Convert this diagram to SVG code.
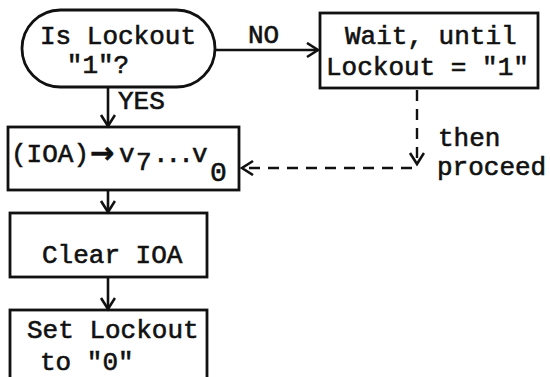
<svg xmlns="http://www.w3.org/2000/svg" width="550" height="377" viewBox="0 0 550 377">
<style>
.t{font-family:"Liberation Mono","DejaVu Sans Mono",monospace;font-size:26px;fill:#111;stroke:#111;stroke-width:0.6}
.b{fill:none;stroke:#111;stroke-width:2.8}
.c{fill:none;stroke:#111;stroke-width:2.6}
.d{fill:none;stroke:#111;stroke-width:2.4;stroke-dasharray:11 8}
</style>
<defs>
<marker id="ah" markerUnits="userSpaceOnUse" markerWidth="16" markerHeight="18" refX="13" refY="8" orient="auto">
<path d="M2,1 L13,8 L2,15" fill="none" stroke="#111" stroke-width="2.6"/>
</marker>
</defs>
<rect width="550" height="377" fill="#fff"/>
<g id="connectors">
<line class="c" x1="215" y1="50" x2="318" y2="50" marker-end="url(#ah)"/>
<line class="c" x1="108" y1="87" x2="108" y2="126" marker-end="url(#ah)"/>
<line class="d" x1="417" y1="90" x2="417" y2="164" marker-end="url(#ah)"/>
<line class="d" x1="412" y1="168" x2="242" y2="168" marker-end="url(#ah)"/>
<line class="c" x1="108" y1="190" x2="108" y2="212" marker-end="url(#ah)"/>
<line class="c" x1="108" y1="277" x2="108" y2="309" marker-end="url(#ah)"/>
<text class="t" x="248" y="43">NO</text>
<text class="t" x="118" y="109">YES</text>
<text class="t" x="438" y="146">then</text>
<text class="t" x="437" y="175">proceed</text>
</g>
<g id="decision">
<rect class="b" x="22" y="10" width="193" height="77" rx="38.5"/>
<text class="t" x="118" y="44" text-anchor="middle">Is Lockout</text>
<text class="t" x="98" y="73" text-anchor="middle">"1"?</text>
</g>
<g id="wait">
<rect class="b" x="320" y="13" width="218" height="75"/>
<text class="t" x="345" y="44">Wait, until</text>
<text class="t" x="326" y="75">Lockout = "1"</text>
</g>
<g id="transfer">
<rect class="b" x="8" y="127" width="231" height="63"/>
<text class="t" x="11" y="162">(IOA)<tspan x="90" font-family="'DejaVu Sans',sans-serif" font-size="29" font-weight="bold" dy="1">→</tspan><tspan x="119" dy="-1">v</tspan><tspan x="136" dy="8">7</tspan><tspan x="153" dy="-8" letter-spacing="-3">...</tspan><tspan x="192">v</tspan><tspan x="210" dy="19" font-size="28">0</tspan></text>
</g>
<g id="clear">
<rect class="b" x="10" y="213" width="197" height="64"/>
<text class="t" x="42" y="263">Clear IOA</text>
</g>
<g id="set">
<rect class="b" x="10" y="310" width="197" height="80"/>
<text class="t" x="27" y="338">Set Lockout</text>
<text class="t" x="40" y="370">to "0"</text>
</g>
</svg>
